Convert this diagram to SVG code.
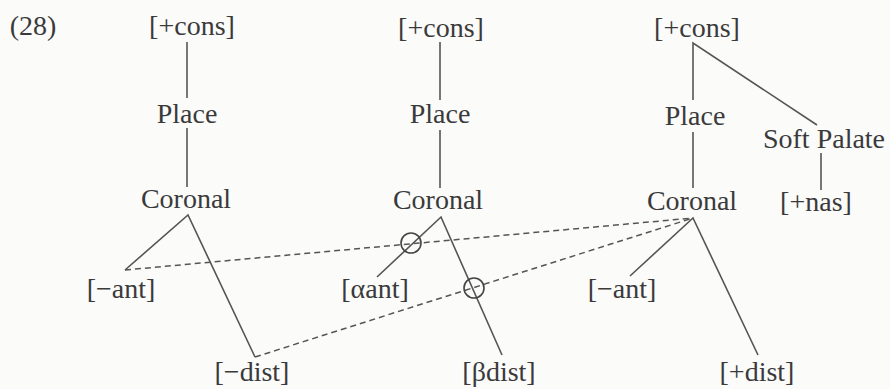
<svg xmlns="http://www.w3.org/2000/svg" width="890" height="389" viewBox="0 0 890 389">
<style>
text{font-family:"Liberation Serif","Times New Roman",serif;font-size:28px;fill:#3a3a3a;text-anchor:middle}
.l{stroke:#555;stroke-width:1.6;fill:none}
.d{stroke:#555;stroke-width:1.5;fill:none;stroke-dasharray:6 4}
.c{stroke:#444;stroke-width:1.6;fill:none}
</style>
<rect width="890" height="389" fill="#fbfbfa"/>
<g id="label"><text x="33" y="35" font-size="24">(28)</text></g>
<g id="connectors">
<line class="l" x1="187" y1="42" x2="187" y2="98"/>
<line class="l" x1="187" y1="128" x2="187" y2="187"/>
<polyline class="l" points="125,270 188,215 255,357"/>
<line class="l" x1="440" y1="42" x2="440" y2="100"/>
<line class="l" x1="440" y1="130" x2="440" y2="188"/>
<polyline class="l" points="377,277 441,217 502,355"/>
<polyline class="l" points="693,100 693,43 817,125"/>
<line class="l" x1="693" y1="132" x2="693" y2="188"/>
<line class="l" x1="821" y1="153" x2="821" y2="190"/>
<polyline class="l" points="630,276 693,218 758,355"/>
<line class="d" x1="125" y1="270" x2="693" y2="218"/>
<line class="d" x1="255" y1="357" x2="693" y2="218"/>
<circle class="c" cx="411" cy="243" r="10"/>
<circle class="c" cx="474" cy="288" r="10"/>
</g>
<g id="t1-cons"><text x="192" y="35">[+cons]</text></g>
<g id="t1-place"><text x="187" y="123">Place</text></g>
<g id="t1-coronal"><text x="186" y="208">Coronal</text></g>
<g id="t1-ant"><text x="121" y="298">[−ant]</text></g>
<g id="t1-dist"><text x="252" y="381">[−dist]</text></g>
<g id="t2-cons"><text x="441" y="37">[+cons]</text></g>
<g id="t2-place"><text x="440" y="123">Place</text></g>
<g id="t2-coronal"><text x="438" y="209">Coronal</text></g>
<g id="t2-ant"><text x="375" y="298">[αant]</text></g>
<g id="t2-dist"><text x="499" y="381">[βdist]</text></g>
<g id="t3-cons"><text x="697" y="37">[+cons]</text></g>
<g id="t3-place"><text x="695" y="125">Place</text></g>
<g id="t3-soft"><text x="824" y="148">Soft Palate</text></g>
<g id="t3-coronal"><text x="692" y="210">Coronal</text></g>
<g id="t3-nas"><text x="816" y="211">[+nas]</text></g>
<g id="t3-ant"><text x="622" y="298">[−ant]</text></g>
<g id="t3-dist"><text x="757" y="381">[+dist]</text></g>
</svg>
